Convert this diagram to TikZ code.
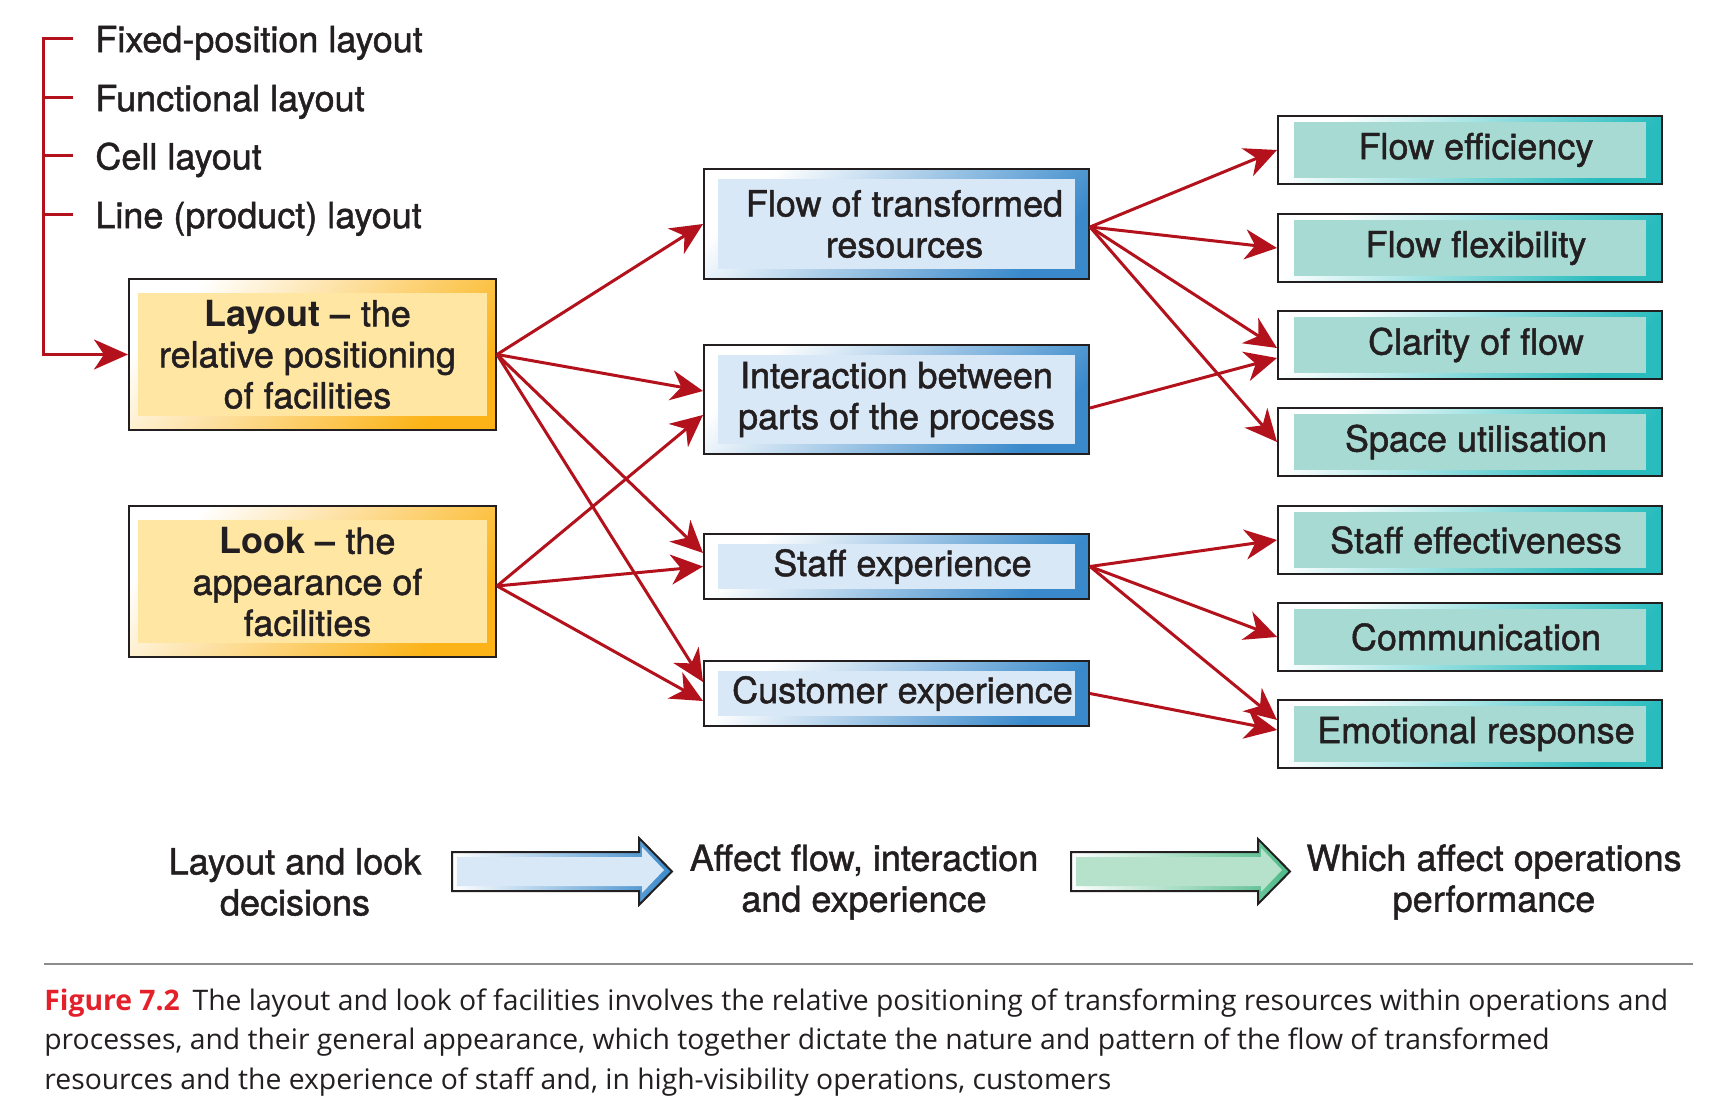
\documentclass[tikz,border=0pt]{standalone}
\usepackage{fontspec}
\setmainfont{TeX Gyre Heros}[UprightFeatures={FakeBold=1.3}]
\newfontfamily\captionfont{Open Sans}
\usetikzlibrary{arrows.meta}

\definecolor{linkred}{HTML}{B3121C}
\definecolor{inkgray}{HTML}{231F20}
\definecolor{rulegray}{HTML}{8C8C8C}
\definecolor{figred}{HTML}{E4202B}
\definecolor{layoutdark}{HTML}{FBB317}
\definecolor{layoutpale}{HTML}{FFE6A3}
\definecolor{flowdark}{HTML}{3A8ACB}
\definecolor{flowpale}{HTML}{D9E8F6}
\definecolor{perfdark}{HTML}{28BCBE}
\definecolor{perfpale}{HTML}{A6DAD3}
\definecolor{greendark}{HTML}{4DBA88}
\definecolor{greenpale}{HTML}{B6E1CB}

\tikzset{
  panel/.style n args={3}{path picture={\fill[#1] ([shift={(#2,-#3)}]path picture bounding box.north west) rectangle ([shift={(-#2,#3)}]path picture bounding box.south east);}},
  nudge/.style={execute at begin node={\hspace*{#1}}},
  box/.style={rectangle, draw=inkgray, line width=1pt, inner sep=0pt, align=center, text=inkgray, font=\fontsize{18}{20.5}\selectfont},
  decisionbox/.style={box, minimum width=183.5pt, minimum height=75.5pt, top color=white, bottom color=layoutdark, shading angle=45, panel={layoutpale}{4.5pt}{7pt}},
  effectbox/.style={box, minimum width=192.5pt, top color=white, bottom color=flowdark, shading angle=45, panel={flowpale}{7pt}{5pt}},
  perfbox/.style={box, minimum width=192pt, minimum height=34pt, top color=white, bottom color=perfdark, shading angle=45, panel={perfpale}{8pt}{3pt}, nudge=6pt},
  item/.style={anchor=west, inner sep=0pt, text depth=0pt, text=inkgray, font=\fontsize{18}{20.5}\selectfont},
  note/.style={inner sep=0pt, align=center, text=inkgray, font=\fontsize{18}{20.5}\selectfont},
  bracket/.style={draw=linkred, line width=1.5pt},
  link/.style={draw=linkred, line width=1.5pt, -{Stealth[length=16pt,width=15pt,inset=5pt]}},
  caption/.style={inner sep=0pt, align=left, text=inkgray, font=\captionfont\fontsize{14.15}{19.9}\selectfont}
}

\begin{document}
\begin{tikzpicture}[x=0.5pt,y=-0.5pt]
\useasboundingbox (0,0) rectangle (1710,1112);

\path (95,39) node[item] (fixed) {Fixed-position layout};
\path (95,98) node[item] (func) {Functional layout};
\path (95,156) node[item] (cell) {Cell layout};
\path (95,215) node[item] (line) {Line (product) layout};
\coordinate (spine) at (43,0);

\path (312.5,354.5) node[decisionbox] (layout) {\hspace*{-5pt}{\bfseries Layout –} the\\\hspace*{-5pt}relative positioning\\\hspace*{-5pt}of facilities};
\path (312.5,582) node[decisionbox] (look) {\hspace*{-5pt}{\bfseries Look –} the\\\hspace*{-5pt}appearance of\\\hspace*{-5pt}facilities};

\draw[bracket, -{Stealth[length=17pt,width=15pt,inset=5pt]}] ([xshift=-11pt]fixed.west) -| (layout.west -| spine) -- (layout.west);
\draw[bracket] (func.west -| spine) -- ([xshift=-11pt]func.west);
\draw[bracket] (cell.west -| spine) -- ([xshift=-11pt]cell.west);
\draw[bracket] (line.west -| spine) -- ([xshift=-11pt]line.west);

\path (896.5,224) node[effectbox, minimum height=55pt] (flow) {\hspace*{8pt}Flow of transformed\\\hspace*{8pt}resources};
\path (896.5,399.5) node[effectbox, minimum height=54.5pt] (inter) {Interaction between\\parts of the process};
\path (896.5,566.5) node[effectbox, minimum height=32.5pt, nudge=6pt] (staff) {Staff experience};
\path (896.5,693.5) node[effectbox, minimum height=32.5pt, nudge=6pt] (cust) {Customer experience};

\path (1470,150) node[perfbox] (eff) {Flow efficiency};
\path (1470,248) node[perfbox] (flex) {Flow flexibility};
\path (1470,345) node[perfbox] (clar) {Clarity of flow};
\path (1470,442) node[perfbox] (space) {Space utilisation};
\path (1470,540) node[perfbox] (staffeff) {Staff effectiveness};
\path (1470,637) node[perfbox] (comm) {Communication};
\path (1470,734) node[perfbox] (emo) {Emotional response};

\draw[link] (layout.east) -- (flow.west);
\draw[link] (layout.east) -- ([yshift=4.25pt]inter.west);
\draw[link] (layout.east) -- ([yshift=6.75pt]staff.west);
\draw[link] (layout.east) -- ([yshift=5.75pt]cust.west);
\draw[link] ([yshift=-2pt]look.east) -- ([yshift=-7.75pt]inter.west);
\draw[link] ([yshift=-2pt]look.east) -- (staff.west);
\draw[link] ([yshift=-2pt]look.east) -- ([yshift=-3.75pt]cust.west);

\draw[link] ([yshift=-1.5pt]flow.east) -- (eff.west);
\draw[link] ([yshift=-1.5pt]flow.east) -- (flex.west);
\draw[link] ([yshift=-1.5pt]flow.east) -- ([yshift=-1.5pt]clar.west);
\draw[link] ([yshift=-1.5pt]flow.east) -- (space.west);
\draw[link] ([yshift=-4.25pt]inter.east) -- ([yshift=-6.5pt]clar.west);
\draw[link] (staff.east) -- (staffeff.west);
\draw[link] (staff.east) -- (comm.west);
\draw[link] (staff.east) -- ([yshift=7pt]emo.west);
\draw[link] (cust.east) -- ([yshift=2pt]emo.west);

\path (295,882) node[note] (decide) {Layout and look\\decisions};
\path (864,882) node[note] (affect) {Affect flow, interaction\\and experience};
\path (1494,882) node[note] (perform) {Which affect operations\\performance};

\shade[left color=white, right color=flowdark] (452,852) -- (639,852) -- (639,838) -- (672,871.5) -- (639,905) -- (639,891) -- (452,891) -- cycle;
\fill[flowpale] (457,857) -- (642,857) -- (642,847) -- (664,870) -- (642,893) -- (642,886) -- (457,886) -- cycle;
\draw[inkgray, line width=1pt] (452,852) -- (639,852) -- (639,838) -- (672,871.5) -- (639,905) -- (639,891) -- (452,891) -- cycle;

\shade[left color=white, right color=greendark] (1071,852) -- (1258,852) -- (1258,839) -- (1290,871.5) -- (1258,904) -- (1258,891) -- (1071,891) -- cycle;
\fill[greenpale] (1076,857) -- (1261,857) -- (1261,848) -- (1282,870) -- (1261,892) -- (1261,886) -- (1076,886) -- cycle;
\draw[inkgray, line width=1pt] (1071,852) -- (1258,852) -- (1258,839) -- (1290,871.5) -- (1258,904) -- (1258,891) -- (1071,891) -- cycle;

\draw[rulegray, line width=1pt] (44,964) -- (1693,964);
\path (44,988) node[caption, anchor=north west] (cap) {\textcolor{figred}{\bfseries Figure 7.2}\hspace{0.45em}The layout and look of facilities involves the relative positioning of transforming resources within operations and\\processes, and their general appearance, which together dictate the nature and pattern of the flow of transformed\\resources and the experience of staff and, in high-visibility operations, customers};
\end{tikzpicture}
\end{document}
